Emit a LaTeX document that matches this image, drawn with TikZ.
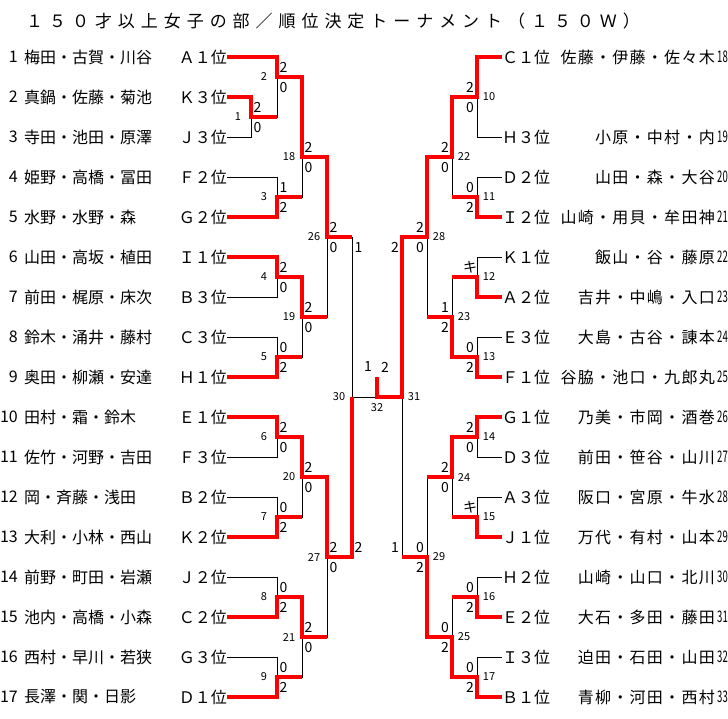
\documentclass[tikz,border=0pt]{standalone}
\usepackage{fontspec}
\usepackage{graphicx}
\usetikzlibrary{positioning, calc}
\newfontfamily\jpfont{Noto Sans CJK JP}
\newfontfamily\jpwide[LetterSpace=8]{Noto Sans CJK JP}
\newfontfamily\jptitle[LetterSpace=35]{Noto Sans CJK JP}
\definecolor{brwin}{HTML}{FF0000}
\definecolor{brline}{HTML}{000000}
\newcommand{\rnum}[1]{\scalebox{0.6}[1]{#1}}

\begin{document}
\begin{tikzpicture}[x=1pt, y=-1pt,
    titleS/.style={font=\jptitle\fontsize{17}{17}\selectfont, anchor=west, inner sep=0pt},
    nameL/.style={font=\jpfont\fontsize{16}{16}\selectfont, anchor=west, inner sep=0pt},
    nameR/.style={font=\jpwide\fontsize{16}{16}\selectfont, anchor=east, inner sep=0pt},
    numL/.style={font=\jpfont\fontsize{16}{16}\selectfont, inner sep=0pt},
    numR/.style={font=\jpfont\fontsize{16}{16}\selectfont, inner sep=0pt},
    seedL/.style={font=\jpfont\fontsize{16}{16}\selectfont, anchor=east, inner sep=0pt},
    seedR/.style={font=\jpfont\fontsize{16}{16}\selectfont, anchor=west, inner sep=0pt},
    score/.style={font=\jpfont\fontsize{14}{14}\selectfont, inner sep=0pt},
    scoreL/.style={score, xshift=6.5pt},
    scoreR/.style={score, xshift=-7pt},
    mno/.style={font=\jpfont\fontsize{11}{11}\selectfont, inner sep=0pt},
    mnoL/.style={mno, xshift=-13pt},
    mnoR/.style={mno, xshift=12pt},
    bline/.style={draw=brline, line width=1pt},
    rline/.style={draw=brwin, line width=4pt}]
  \fill[white] (0,0) rectangle (728,718);
  \useasboundingbox (0,0) rectangle (728,718);

  \node[titleS] (title) at (26,21) {１５０才以上女子の部／順位決定トーナメント（１５０Ｗ）};

  % left entries
  \node[nameL] (pl1) at (24,57) {梅田・古賀・川谷}; \node[numL, left=6pt of pl1] (el1) {1}; \node[seedL] (sA1) at (227,57) {Ａ１位};
  \node[nameL] (pl2) at (24,97) {真鍋・佐藤・菊池}; \node[numL, left=6pt of pl2] (el2) {2}; \node[seedL] (sK3) at (227,97) {Ｋ３位};
  \node[nameL] (pl3) at (24,137) {寺田・池田・原澤}; \node[numL, left=6pt of pl3] (el3) {3}; \node[seedL] (sJ3) at (227,137) {Ｊ３位};
  \node[nameL] (pl4) at (24,177) {姫野・高橋・冨田}; \node[numL, left=6pt of pl4] (el4) {4}; \node[seedL] (sF2) at (227,177) {Ｆ２位};
  \node[nameL] (pl5) at (24,217) {水野・水野・森}; \node[numL, left=6pt of pl5] (el5) {5}; \node[seedL] (sG2) at (227,217) {Ｇ２位};
  \node[nameL] (pl6) at (24,257) {山田・高坂・植田}; \node[numL, left=6pt of pl6] (el6) {6}; \node[seedL] (sI1) at (227,257) {Ｉ１位};
  \node[nameL] (pl7) at (24,297) {前田・梶原・床次}; \node[numL, left=6pt of pl7] (el7) {7}; \node[seedL] (sB3) at (227,297) {Ｂ３位};
  \node[nameL] (pl8) at (24,337) {鈴木・涌井・藤村}; \node[numL, left=6pt of pl8] (el8) {8}; \node[seedL] (sC3) at (227,337) {Ｃ３位};
  \node[nameL] (pl9) at (24,377) {奥田・柳瀬・安達}; \node[numL, left=6pt of pl9] (el9) {9}; \node[seedL] (sH1) at (227,377) {Ｈ１位};
  \node[nameL] (pl10) at (24,417) {田村・霜・鈴木}; \node[numL, left=6pt of pl10] (el10) {10}; \node[seedL] (sE1) at (227,417) {Ｅ１位};
  \node[nameL] (pl11) at (24,457) {佐竹・河野・吉田}; \node[numL, left=6pt of pl11] (el11) {11}; \node[seedL] (sF3) at (227,457) {Ｆ３位};
  \node[nameL] (pl12) at (24,497) {岡・斉藤・浅田}; \node[numL, left=6pt of pl12] (el12) {12}; \node[seedL] (sB2) at (227,497) {Ｂ２位};
  \node[nameL] (pl13) at (24,537) {大利・小林・西山}; \node[numL, left=6pt of pl13] (el13) {13}; \node[seedL] (sK2) at (227,537) {Ｋ２位};
  \node[nameL] (pl14) at (24,577) {前野・町田・岩瀬}; \node[numL, left=6pt of pl14] (el14) {14}; \node[seedL] (sJ2) at (227,577) {Ｊ２位};
  \node[nameL] (pl15) at (24,617) {池内・高橋・小森}; \node[numL, left=6pt of pl15] (el15) {15}; \node[seedL] (sC2) at (227,617) {Ｃ２位};
  \node[nameL] (pl16) at (24,657) {西村・早川・若狭}; \node[numL, left=6pt of pl16] (el16) {16}; \node[seedL] (sG3) at (227,657) {Ｇ３位};
  \node[nameL] (pl17) at (24,697) {長澤・関・日影}; \node[numL, left=6pt of pl17] (el17) {17}; \node[seedL] (sD1) at (227,697) {Ｄ１位};

  % right entries
  \node[seedR] (sC1) at (502,57) {Ｃ１位}; \node[nameR] (pr18) at (715,57) {佐藤・伊藤・佐々木}; \node[numR, right=2pt of pr18] (er18) {\rnum{18}};
  \node[seedR] (sH3) at (502,137) {Ｈ３位}; \node[nameR] (pr19) at (715,137) {小原・中村・内}; \node[numR, right=2pt of pr19] (er19) {\rnum{19}};
  \node[seedR] (sD2) at (502,177) {Ｄ２位}; \node[nameR] (pr20) at (715,177) {山田・森・大谷}; \node[numR, right=2pt of pr20] (er20) {\rnum{20}};
  \node[seedR] (sI2) at (502,217) {Ｉ２位}; \node[nameR] (pr21) at (715,217) {山崎・用貝・牟田神}; \node[numR, right=2pt of pr21] (er21) {\rnum{21}};
  \node[seedR] (sK1) at (502,257) {Ｋ１位}; \node[nameR] (pr22) at (715,257) {飯山・谷・藤原}; \node[numR, right=2pt of pr22] (er22) {\rnum{22}};
  \node[seedR] (sA2) at (502,297) {Ａ２位}; \node[nameR] (pr23) at (715,297) {吉井・中嶋・入口}; \node[numR, right=2pt of pr23] (er23) {\rnum{23}};
  \node[seedR] (sE3) at (502,337) {Ｅ３位}; \node[nameR] (pr24) at (715,337) {大島・古谷・諌本}; \node[numR, right=2pt of pr24] (er24) {\rnum{24}};
  \node[seedR] (sF1) at (502,377) {Ｆ１位}; \node[nameR] (pr25) at (715,377) {谷脇・池口・九郎丸}; \node[numR, right=2pt of pr25] (er25) {\rnum{25}};
  \node[seedR] (sG1) at (502,417) {Ｇ１位}; \node[nameR] (pr26) at (715,417) {乃美・市岡・酒巻}; \node[numR, right=2pt of pr26] (er26) {\rnum{26}};
  \node[seedR] (sD3) at (502,457) {Ｄ３位}; \node[nameR] (pr27) at (715,457) {前田・笹谷・山川}; \node[numR, right=2pt of pr27] (er27) {\rnum{27}};
  \node[seedR] (sA3) at (502,497) {Ａ３位}; \node[nameR] (pr28) at (715,497) {阪口・宮原・牛水}; \node[numR, right=2pt of pr28] (er28) {\rnum{28}};
  \node[seedR] (sJ1) at (502,537) {Ｊ１位}; \node[nameR] (pr29) at (715,537) {万代・有村・山本}; \node[numR, right=2pt of pr29] (er29) {\rnum{29}};
  \node[seedR] (sH2) at (502,577) {Ｈ２位}; \node[nameR] (pr30) at (715,577) {山崎・山口・北川}; \node[numR, right=2pt of pr30] (er30) {\rnum{30}};
  \node[seedR] (sE2) at (502,617) {Ｅ２位}; \node[nameR] (pr31) at (715,617) {大石・多田・藤田}; \node[numR, right=2pt of pr31] (er31) {\rnum{31}};
  \node[seedR] (sI3) at (502,657) {Ｉ３位}; \node[nameR] (pr32) at (715,657) {迫田・石田・山田}; \node[numR, right=2pt of pr32] (er32) {\rnum{32}};
  \node[seedR] (sB1) at (502,697) {Ｂ１位}; \node[nameR] (pr33) at (715,697) {青柳・河田・西村}; \node[numR, right=2pt of pr33] (er33) {\rnum{33}};

  % match points (vertical line x, result y)
  \coordinate (m1) at (251,117);  \coordinate (m2) at (277,77);   \coordinate (m3) at (277,197);
  \coordinate (m4) at (277,277);  \coordinate (m5) at (277,357);  \coordinate (m6) at (277,437);
  \coordinate (m7) at (277,517);  \coordinate (m8) at (277,597);  \coordinate (m9) at (277,677);
  \coordinate (m18) at (302,157); \coordinate (m19) at (302,317); \coordinate (m20) at (302,477);
  \coordinate (m21) at (302,637); \coordinate (m26) at (327,237); \coordinate (m27) at (327,557);
  \coordinate (m30) at (352,397);
  \coordinate (m10) at (477,97);  \coordinate (m11) at (477,197); \coordinate (m12) at (477,277);
  \coordinate (m13) at (477,357); \coordinate (m14) at (477,437); \coordinate (m15) at (477,517);
  \coordinate (m16) at (477,597); \coordinate (m17) at (477,677);
  \coordinate (m22) at (452,157); \coordinate (m23) at (452,317); \coordinate (m24) at (452,477);
  \coordinate (m25) at (452,637); \coordinate (m28) at (427,237); \coordinate (m29) at (427,557);
  \coordinate (m31) at (402,397); \coordinate (m32) at (377,397); \coordinate (champ) at (377,377);

  % bracket lines
  \foreach \s/\m in {sA1/m2, sK3/m1, sJ3/m1, sF2/m3, sG2/m3, sI1/m4, sB3/m4, sC3/m5, sH1/m5,
      sE1/m6, sF3/m6, sB2/m7, sK2/m7, sJ2/m8, sC2/m8, sG3/m9, sD1/m9}
    \draw[bline] (\s.east) -| (\m);
  \foreach \s/\m in {sC1/m10, sH3/m10, sD2/m11, sI2/m11, sK1/m12, sA2/m12, sE3/m13, sF1/m13,
      sG1/m14, sD3/m14, sA3/m15, sJ1/m15, sH2/m16, sE2/m16, sI3/m17, sB1/m17}
    \draw[bline] (\s.west) -| (\m);
  \foreach \s/\m in {m1/m2, m2/m18, m3/m18, m4/m19, m5/m19, m6/m20, m7/m20, m8/m21, m9/m21,
      m18/m26, m19/m26, m20/m27, m21/m27, m26/m30, m27/m30, m30/m32,
      m10/m22, m11/m22, m12/m23, m13/m23, m14/m24, m15/m24, m16/m25, m17/m25,
      m22/m28, m23/m28, m24/m29, m25/m29, m28/m31, m29/m31, m31/m32}
    \draw[bline] (\s) -| (\m);

  % winners
  \foreach \s/\m/\n in {sK3/m1/m2, sA1/m2/m18, sG2/m3/m18, sI1/m4/m19, sH1/m5/m19,
      sE1/m6/m20, sK2/m7/m20, sC2/m8/m21, sD1/m9/m21}
    \draw[rline] (\s.east) -| (\m) -- (\m -| \n);
  \foreach \s/\m/\n in {sC1/m10/m22, sI2/m11/m22, sA2/m12/m23, sF1/m13/m23,
      sG1/m14/m24, sJ1/m15/m24, sE2/m16/m25, sB1/m17/m25}
    \draw[rline] (\s.west) -| (\m) -- (\m -| \n);
  \foreach \s/\m/\n in {m2/m18/m26, m4/m19/m26, m6/m20/m27, m8/m21/m27, m18/m26/m30, m20/m27/m30,
      m10/m22/m28, m13/m23/m28, m14/m24/m29, m17/m25/m29, m22/m28/m31, m25/m29/m31}
    \draw[rline] (\s) -| (\m) -- (\m -| \n);
  \draw[rline] (m27) -| (m30);
  \draw[rline] (m28) -| (m31) -- (m32) -- (champ);

  % match numbers
  \foreach \m/\k in {m1/1, m2/2, m3/3, m4/4, m5/5, m6/6, m7/7, m8/8, m9/9,
      m18/18, m19/19, m20/20, m21/21, m26/26, m27/27, m30/30}
    \node[mnoL] (mn\k) at (\m) {\k};
  \foreach \m/\k in {m10/10, m11/11, m12/12, m13/13, m14/14, m15/15, m16/16, m17/17,
      m22/22, m23/23, m24/24, m25/25, m28/28, m29/29, m31/31}
    \node[mnoR] (mn\k) at (\m) {\k};
  \node[mno, yshift=-11pt] (mn32) at (m32) {32};

  % scores
  \foreach \m/\a/\b in {m1/2/0, m2/2/0, m3/1/2, m4/2/0, m5/0/2, m6/2/0, m7/0/2, m8/0/2, m9/0/2,
      m18/2/0, m19/2/0, m20/2/0, m21/2/0, m26/2/0, m27/2/0} {
    \node[scoreL, yshift=9.5pt] (\m-t) at (\m) {\a};
    \node[scoreL, yshift=-10.5pt] (\m-b) at (\m) {\b};
  }
  \foreach \m/\a/\b in {m10/2/0, m11/0/2, m13/0/2, m14/2/0, m16/0/2, m17/0/2,
      m22/2/0, m23/1/2, m24/2/0, m25/0/2, m28/2/0, m29/0/2} {
    \node[scoreR, yshift=9.5pt] (\m-t) at (\m) {\a};
    \node[scoreR, yshift=-10.5pt] (\m-b) at (\m) {\b};
  }
  \node[scoreR, yshift=9.5pt] (m12-t) at (m12) {キ};
  \node[scoreR, yshift=9.5pt] (m15-t) at (m15) {キ};
  \node[scoreL, yshift=-10.5pt] (m30-t) at (m26 -| m30) {1};
  \node[scoreL, yshift=9.5pt] (m30-b) at (m27 -| m30) {2};
  \node[scoreR, yshift=-10.5pt] (m31-t) at (m28 -| m31) {2};
  \node[scoreR, yshift=9.5pt] (m31-b) at (m29 -| m31) {1};
  \node[score, xshift=-9pt, yshift=10pt] (m32-l) at (champ) {1};
  \node[score, xshift=8pt, yshift=10pt] (m32-r) at (champ) {2};
\end{tikzpicture}
\end{document}
